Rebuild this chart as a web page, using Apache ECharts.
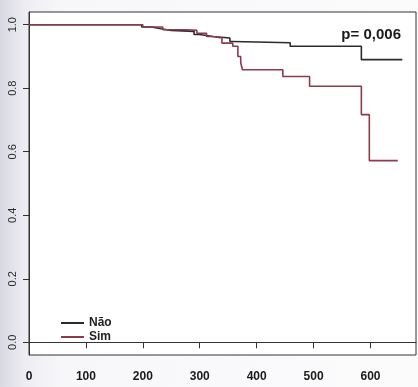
<!DOCTYPE html>
<html>
<head>
<meta charset="utf-8">
<script src="https://cdn.jsdelivr.net/npm/echarts@6/dist/echarts.min.js"></script>
<style>
    html, body {
        margin: 0;
        padding: 0;
        background: linear-gradient(to right, #d9d9e3 0px, #ececf2 24px, #f7f7fa 60px, #fbfbfc 100%);
    }
    #grafico {
        width: 418px;
        height: 387px;
    }
</style>
</head>
<body>
<div id="grafico"></div>
<script>
    // curvas de Kaplan-Meier (tempo em dias, sobrevida)
    var naoTempo = [0, 198, 215, 232, 250, 290, 300, 323, 353, 358, 459, 584, 656];
    var naoSobrev = [1.0, 0.993, 0.987, 0.982, 0.979, 0.969, 0.963, 0.958, 0.947, 0.943, 0.932, 0.890, 0.890];

    var simTempo = [0, 200, 235, 277, 295, 312, 323, 339, 358, 367, 372, 375, 446, 493, 584, 598, 648];
    var simSobrev = [1.0, 0.993, 0.984, 0.982, 0.973, 0.963, 0.958, 0.942, 0.932, 0.900, 0.880, 0.858, 0.837, 0.806, 0.717, 0.572, 0.572];

    var yTicks = [0, 0.2, 0.4, 0.6, 0.8, 1.0];
    var grupos = ['Não', 'Sim'];
    var pValor = 'p= 0,006';

    function pares(tempo, sobrev) {
        var out = [];
        for (var i = 0; i < tempo.length; i++) {
            out.push([tempo[i], sobrev[i]]);
        }
        return out;
    }

    var myChart = echarts.init(document.getElementById('grafico'));

    var fonte = '"Liberation Sans", Arial, sans-serif';

    var option = {
        animation: false,
        title: {
            text: pValor,
            right: 12,
            top: 22,
            textStyle: {
                fontFamily: fonte,
                fontSize: 15,
                fontWeight: 'bold',
                color: '#1a1a1a'
            }
        },
        legend: {
            data: grupos,
            orient: 'vertical',
            left: 56,
            top: 312,
            icon: 'rect',
            itemWidth: 23,
            itemHeight: 2,
            itemGap: 2,
            textStyle: {
                fontFamily: fonte,
                fontSize: 12,
                fontWeight: 'bold',
                color: '#222',
                lineHeight: 12
            }
        },
        grid: {
            left: 29,
            right: 2,
            top: 12,
            bottom: 32,
            show: true,
            borderColor: '#333',
            borderWidth: 1,
            backgroundColor: '#ffffff'
        },
        xAxis: {
            type: 'value',
            min: 0,
            max: 680,
            interval: 100,
            splitLine: {show: false},
            axisLine: {show: true, lineStyle: {color: '#333', width: 1}},
            axisTick: {show: true, length: 6, lineStyle: {color: '#333'}},
            axisLabel: {
                showMaxLabel: false,
                margin: 16,
                fontFamily: fonte,
                fontSize: 12,
                fontWeight: 'bold',
                color: '#1a1a1a'
            }
        },
        yAxis: {
            type: 'value',
            min: -0.04,
            max: 1.04,
            splitLine: {show: false},
            axisLine: {show: true, lineStyle: {color: '#333', width: 1}},
            axisTick: {show: true, length: 6, customValues: yTicks, lineStyle: {color: '#333'}},
            axisLabel: {
                customValues: yTicks,
                rotate: 90,
                margin: 11,
                fontFamily: fonte,
                fontSize: 11,
                color: '#2a2a2a',
                formatter: function (v) {
                    return v.toFixed(1);
                }
            }
        },
        series: [
            {
                name: grupos[0],
                type: 'line',
                step: 'end',
                symbol: 'none',
                color: '#2b2b2f',
                lineStyle: {width: 1.6, color: '#2b2b2f'},
                data: pares(naoTempo, naoSobrev)
            },
            {
                name: grupos[1],
                type: 'line',
                step: 'end',
                symbol: 'none',
                color: '#8c3a4c',
                lineStyle: {width: 1.6, color: '#8c3a4c'},
                data: pares(simTempo, simSobrev)
            }
        ]
    };

    myChart.setOption(option);
</script>
</body>
</html>
